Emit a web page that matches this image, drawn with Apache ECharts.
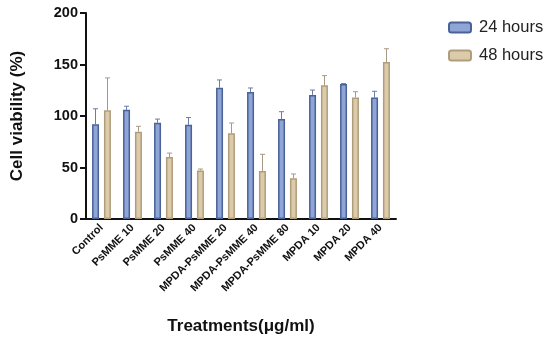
<!DOCTYPE html>
<html><head><meta charset="utf-8">
<script src="https://cdn.jsdelivr.net/npm/echarts@6/dist/echarts.min.js"></script>
<style>html,body{margin:0;padding:0;background:#fff}#c{width:550px;height:341px}</style>
</head><body><div id="c"></div>
<script>
const categories = ['Control','PsMME 10','PsMME 20','PsMME 40','MPDA-PsMME 20','MPDA-PsMME 40','MPDA-PsMME 80','MPDA 10','MPDA 20','MPDA 40'];
const mean24 = [92, 106, 93.5, 91.5, 127.5, 123.3, 97, 120.5, 131, 118];
const err24top = [107, 109.5, 97, 98.5, 135, 127.2, 104.2, 125.2, 131.5, 124];
const mean48 = [105.5, 84.8, 60.2, 47.2, 83.2, 46.6, 39.5, 129.8, 118, 152.4];
const err48top = [137, 90, 64, 48.5, 93.2, 62.8, 43.7, 139.2, 123.6, 165.3];
const yTicks = [0, 50, 100, 150, 200];

const BW = 7, OFF = 6;
function errSeries(tops, means, off, color) {
  return {
    type: 'custom', silent: true, z: 1,
    data: tops.map((t, i) => [i, means[i], t]),
    renderItem: function (params, api) {
      const p0 = api.coord([api.value(0), api.value(1)]);
      const p1 = api.coord([api.value(0), api.value(2)]);
      const x = p0[0] + off;
      const st = { stroke: color, lineWidth: 1 };
      return { type: 'group', children: [
        { type: 'line', shape: { x1: x, y1: p0[1], x2: x, y2: p1[1] }, style: st },
        { type: 'line', shape: { x1: x - 2.5, y1: p1[1], x2: x + 2.5, y2: p1[1] }, style: st }
      ]};
    }
  };
}
const chart = echarts.init(document.getElementById('c'));
chart.setOption({
  animation: false,
  textStyle: { fontFamily: 'Liberation Sans, Arial, sans-serif' },
  grid: { left: 86, right: 154, top: 13, bottom: 122, containLabel: false, outerBoundsMode: 'none' },
  legend: {
    orient: 'vertical', left: 443, top: 14, itemWidth: 22, itemHeight: 10, itemGap: 11,
    textStyle: { fontSize: 16.5, color: '#222', padding: [0, 0, 0, 3] },
    data: ['24 hours', '48 hours']
  },
  xAxis: {
    type: 'category', data: categories,
    name: 'Treatments(μg/ml)', nameLocation: 'middle', nameGap: 99,
    nameTextStyle: { fontSize: 17, fontWeight: 'bold', color: '#111' },
    axisLine: { lineStyle: { color: '#111', width: 2 } },
    axisTick: { alignWithLabel: true, length: 5, lineStyle: { width: 2, color: '#111' } },
    axisLabel: { rotate: 45, fontSize: 11, fontWeight: 'bold', color: '#111', margin: 7, interval: 0 }
  },
  yAxis: {
    type: 'value', min: 0, max: 200, interval: 50,
    name: 'Cell viability (%)', nameLocation: 'middle', nameGap: 60,
    nameTextStyle: { fontSize: 17, fontWeight: 'bold', color: '#111' },
    axisLine: { show: true, lineStyle: { color: '#111', width: 2 } },
    axisTick: { show: true, length: 6, lineStyle: { width: 2, color: '#111' } },
    axisLabel: { fontSize: 14.5, fontWeight: 'bold', color: '#111', margin: 8,
      formatter: v => yTicks.includes(v) ? String(v) : '' },
    splitLine: { show: false }
  },
  series: [
    { name: '24 hours', type: 'bar', data: mean24, barWidth: BW, barGap: '70%', z: 2,
      itemStyle: { color: '#8ea5d6', borderColor: '#4a6298', borderWidth: 1.5 } },
    { name: '48 hours', type: 'bar', data: mean48, barWidth: BW, z: 2,
      itemStyle: { color: '#dccbab', borderColor: '#b09d7c', borderWidth: 1.5 } },
    errSeries(err24top, mean24, -OFF, '#6a7da8'),
    errSeries(err48top, mean48, OFF, '#a89a82')
  ]
});
</script></body></html>
